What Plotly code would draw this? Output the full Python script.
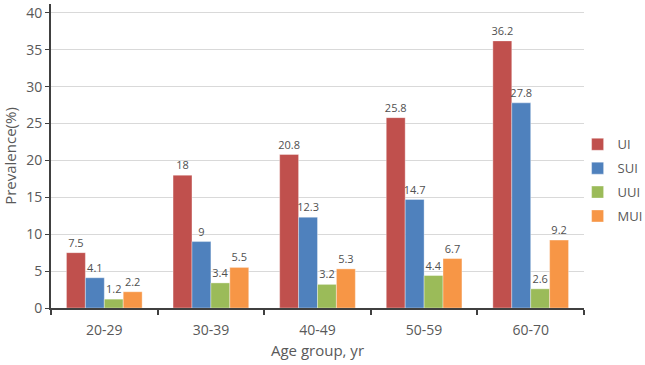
import plotly.graph_objects as go

categories = ["20-29", "30-39", "40-49", "50-59", "60-70"]
ui = [7.5, 18, 20.8, 25.8, 36.2]
sui = [4.1, 9, 12.3, 14.7, 27.8]
uui = [1.2, 3.4, 3.2, 4.4, 2.6]
mui = [2.2, 5.5, 5.3, 6.7, 9.2]
series_names = ["UI", "SUI", "UUI", "MUI"]
colors = ["#C0504D", "#4F81BD", "#9BBB59", "#F79646"]

fig = go.Figure()
for name, vals, c in zip(series_names, [ui, sui, uui, mui], colors):
    fig.add_trace(go.Bar(
        x=categories, y=vals, name=name, legendgroup=name,
        marker=dict(color=c, line=dict(color="rgba(255,255,255,0.35)", width=1)),
        text=[str(v) for v in vals], textposition="outside",
        constraintext="none",
        textfont=dict(size=11, color="#505050", family="Open Sans"),
        cliponaxis=False,
    ))

fig.update_layout(
    width=645, height=365,
    margin=dict(l=51, r=61, t=4, b=57, autoexpand=False),
    paper_bgcolor="white", plot_bgcolor="white",
    barmode="group", bargap=0.29, bargroupgap=0,
    font=dict(family="Open Sans", color="#595959", size=14),
    showlegend=True,
    legend=dict(x=0.988, y=0.42, xanchor="left", yanchor="middle",
                bgcolor="rgba(0,0,0,0)",
                font=dict(size=13, color="#595959"),
                tracegroupgap=4, itemwidth=30),
)
fig.update_xaxes(
    automargin=False,
    showline=True, linecolor="#404040", linewidth=2,
    ticks="outside", tickson="boundaries", ticklen=5, tickcolor="#404040", tickwidth=2,
    ticklabelstandoff=8,
    tickfont=dict(size=14, color="#595959"),
    title=dict(text="Age group, yr", font=dict(size=15, color="#595959"), standoff=8),
)
fig.update_yaxes(
    automargin=False,
    range=[0, 41.2], tickvals=[0, 5, 10, 15, 20, 25, 30, 35, 40],
    ticklabeloverflow="allow",
    showline=True, linecolor="#404040", linewidth=2,
    ticks="outside", ticklen=4, tickcolor="#404040",
    showgrid=True, gridcolor="#D9D9D9", gridwidth=1,
    zeroline=False,
    tickfont=dict(size=14, color="#595959"),
    title=dict(text="Prevalence(%)", font=dict(size=15, color="#595959"), standoff=8),
)

fig.write_html("out.html", config={"displayModeBar": False},
               post_script="document.body.style.margin='0';")
